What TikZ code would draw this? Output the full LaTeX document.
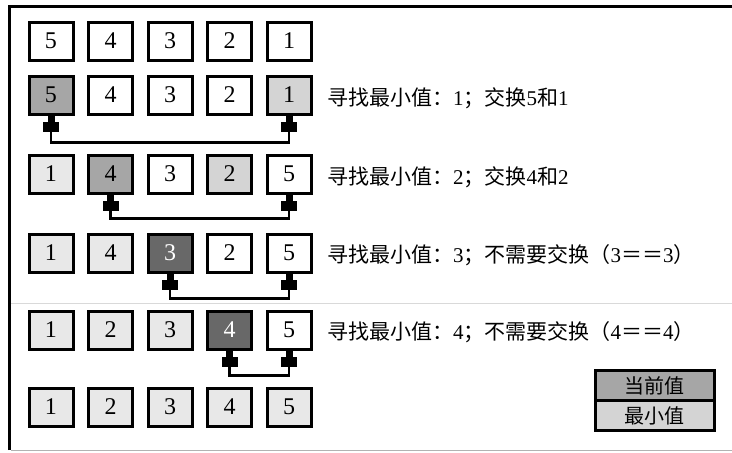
\documentclass[tikz,border=0pt]{standalone}
\usepackage{fontspec}
\setmainfont{Liberation Serif}
\newfontfamily\cjk{Noto Sans CJK SC}
\usetikzlibrary{positioning,arrows.meta}
\definecolor{donefill}{HTML}{E8E8E8}
\definecolor{minfill}{HTML}{D4D4D4}
\definecolor{curfill}{HTML}{A6A6A6}
\definecolor{curdark}{HTML}{686868}
\tikzset{
    cell/.style={draw, line width=3pt, minimum width=44pt, minimum height=38pt, inner sep=0pt, font=\fontsize{24}{26}\selectfont},
    newval/.style={fill=white},
    doneval/.style={fill=donefill},
    minval/.style={fill=minfill},
    curval/.style={fill=curfill},
    curmin/.style={fill=curdark, text=white},
    swapline/.style={line width=2.5pt, {Rectangle[length=6pt,width=7pt,sep=0pt]Rectangle[length=10pt,width=16pt,sep=0pt]}-{Rectangle[length=10pt,width=16pt,sep=0pt]Rectangle[length=6pt,width=7pt,sep=0pt]}},
    note/.style={anchor=west, inner sep=0pt, font=\fontsize{21}{24}\selectfont},
    legend/.style={draw, line width=3pt, minimum width=119pt, minimum height=30pt, inner sep=0pt, font=\cjk\fontsize{20}{22}\selectfont}
}
\begin{document}
\begin{tikzpicture}[x=1pt,y=-1pt]
    \useasboundingbox (0,0) rectangle (732,453);
    % frame
    \draw[line width=3pt] (9.5,450) -- (9.5,6) -- (732,6);
    \draw[gray!60, line width=1.5pt] (11,450.5) -- (732,450.5);
    \draw[gray!30, line width=1pt] (11,303) -- (732,303);

    % rows
    \foreach \i/\v/\s in {1/5/newval,2/4/newval,3/3/newval,4/2/newval,5/1/newval}
        \node[cell,\s] (a\i) at ({51+59.5*(\i-1)},41) {\v};
    \foreach \i/\v/\s in {1/5/curval,2/4/newval,3/3/newval,4/2/newval,5/1/minval}
        \node[cell,\s] (b\i) at ({51+59.5*(\i-1)},95) {\v};
    \foreach \i/\v/\s in {1/1/doneval,2/4/curval,3/3/newval,4/2/minval,5/5/newval}
        \node[cell,\s] (c\i) at ({51+59.5*(\i-1)},174) {\v};
    \foreach \i/\v/\s in {1/1/doneval,2/4/doneval,3/3/curmin,4/2/newval,5/5/newval}
        \node[cell,\s] (d\i) at ({51+59.5*(\i-1)},253) {\v};
    \foreach \i/\v/\s in {1/1/doneval,2/2/doneval,3/3/doneval,4/4/curmin,5/5/newval}
        \node[cell,\s] (e\i) at ({51+59.5*(\i-1)},330) {\v};
    \foreach \i/\v/\s in {1/1/doneval,2/2/doneval,3/3/doneval,4/4/doneval,5/5/doneval}
        \node[cell,\s] (f\i) at ({51+59.5*(\i-1)},407) {\v};

    % swaps
    \draw[swapline] (b1.south) -- ++(0,27) -| (b5.south);
    \draw[swapline] (c2.south) -- ++(0,24) -| (c5.south);
    \draw[swapline] (d3.south) -- ++(0,25) -| (d5.south);
    \draw[swapline] (e4.south) -- ++(0,25) -| (e5.south);

    % notes
    \node[note] (t1) at (327,98) {{\cjk 寻找最小值：}1{\cjk ；交换}5{\cjk 和}1};
    \node[note] (t2) at (327,177) {{\cjk 寻找最小值：}2{\cjk ；交换}4{\cjk 和}2};
    \node[note] (t3) at (327,255) {{\cjk 寻找最小值：}3{\cjk ；不需要交换（}3{\cjk ＝＝}3{\cjk ）}};
    \node[note] (t4) at (327,332) {{\cjk 寻找最小值：}4{\cjk ；不需要交换（}4{\cjk ＝＝}4{\cjk ）}};

    % legend
    \node[legend, fill=curfill] (lg1) at (654.5,385.5) {当前值};
    \node[legend, fill=minfill, below=-3pt of lg1] (lg2) {最小值};
\end{tikzpicture}
\end{document}
